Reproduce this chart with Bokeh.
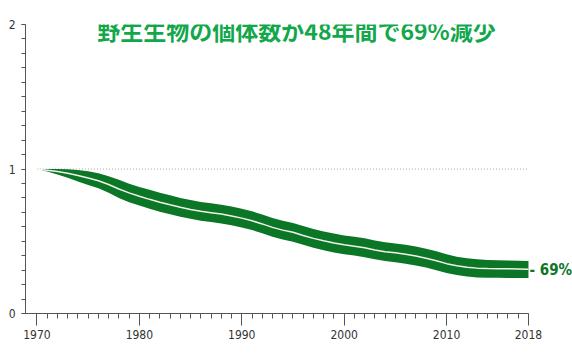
from bokeh.plotting import figure
from bokeh.models import Range1d, FixedTicker, ColumnDataSource
from bokeh.core.properties import value
from bokeh.embed import file_html
from bokeh.resources import INLINE

years = list(range(1970, 2019))
index_mid = [1.000, 0.992, 0.982, 0.970, 0.955, 0.938, 0.919, 0.893, 0.862, 0.835,
             0.812, 0.790, 0.770, 0.752, 0.735, 0.720, 0.707, 0.698, 0.688, 0.675,
             0.660, 0.642, 0.620, 0.596, 0.577, 0.562, 0.540, 0.520, 0.503, 0.488,
             0.475, 0.466, 0.455, 0.440, 0.428, 0.420, 0.410, 0.398, 0.383, 0.365,
             0.345, 0.330, 0.320, 0.314, 0.311, 0.310, 0.309, 0.308, 0.307]
index_upper = [1.000, 1.000, 1.000, 0.998, 0.993, 0.985, 0.970, 0.950, 0.925, 0.898,
               0.876, 0.856, 0.836, 0.818, 0.800, 0.785, 0.772, 0.763, 0.753, 0.740,
               0.725, 0.707, 0.685, 0.661, 0.642, 0.627, 0.605, 0.585, 0.568, 0.553,
               0.540, 0.531, 0.520, 0.505, 0.493, 0.485, 0.475, 0.463, 0.448, 0.430,
               0.410, 0.393, 0.382, 0.375, 0.371, 0.369, 0.367, 0.365, 0.363]
index_lower = [1.000, 0.982, 0.962, 0.940, 0.914, 0.890, 0.866, 0.836, 0.800, 0.770,
               0.747, 0.725, 0.705, 0.687, 0.670, 0.655, 0.642, 0.633, 0.623, 0.610,
               0.595, 0.577, 0.555, 0.531, 0.512, 0.497, 0.475, 0.455, 0.438, 0.423,
               0.410, 0.401, 0.390, 0.375, 0.363, 0.355, 0.345, 0.333, 0.318, 0.300,
               0.281, 0.266, 0.256, 0.250, 0.248, 0.247, 0.246, 0.245, 0.245]
x_major_ticks = [1970, 1980, 1990, 2000, 2010, 2018]
y_major_ticks = [0, 1, 2]
y_minor_ticks = [i / 10 for i in range(0, 21)]
baseline_years = [1970, 2018]
baseline_values = [1, 1]
title_text = "野生生物の個体数が48年間で69%減少"
end_label = "- 69%"

src = ColumnDataSource(dict(year=years, mid=index_mid, lo=index_lower, hi=index_upper))

p = figure(width=572, height=355, output_backend="svg", toolbar_location=None,
           x_range=Range1d(1968.88, 2022.3), y_range=Range1d(0, 2),
           min_border_left=25, min_border_right=0, min_border_top=24, min_border_bottom=42)
p.outline_line_color = None
p.xgrid.visible = False
p.ygrid.visible = False
p.background_fill_color = "white"
p.border_fill_color = "white"

axis_color = "#555555"
label_font = "DejaVu Sans Condensed"

# x axis
xa = p.xaxis[0]
xa.ticker = FixedTicker(ticks=x_major_ticks, minor_ticks=years)
xa.bounds = (1968.88, 2018)
xa.axis_line_color = axis_color
xa.major_tick_line_color = axis_color
xa.minor_tick_line_color = axis_color
xa.major_tick_out = 12
xa.major_tick_in = 0
xa.minor_tick_out = 5
xa.minor_tick_in = 0
xa.major_label_standoff = 4
xa.major_label_text_font = label_font
xa.major_label_text_font_size = "12px"
xa.major_label_text_color = "#333333"

# y axis
ya = p.yaxis[0]
ya.ticker = FixedTicker(ticks=y_major_ticks, minor_ticks=y_minor_ticks)
ya.axis_line_color = axis_color
ya.major_tick_line_color = axis_color
ya.minor_tick_line_color = axis_color
ya.major_tick_out = 4
ya.major_tick_in = 0
ya.minor_tick_out = 4
ya.minor_tick_in = 0
ya.major_label_standoff = 6
ya.major_label_text_font = label_font
ya.major_label_text_font_size = "12px"
ya.major_label_text_color = "#333333"

# baseline at 1
p.line(baseline_years, baseline_values, line_color="#aaaaaa", line_width=1, line_dash="1 2")

# band and center line
p.varea(x="year", y1="lo", y2="hi", source=src, fill_color="#0b7626")
p.line(x="year", y="mid", source=src, line_color="#f2f2ea", line_width=1.5)

# title
p.text(x=[1995.35], y=[1.963], text=[title_text], text_align="center", text_baseline="middle",
       text_font=value("Noto Sans CJK JP"), text_font_style="bold", text_font_size="23px",
       text_color="#12a74b")

# end label
p.text(x=[2018.1], y=[0.298], text=[end_label], text_align="left", text_baseline="middle",
       text_font=value(label_font), text_font_style="bold", text_font_size="15px",
       text_color="#0b7626")

open("out.html", "w").write(file_html(p, INLINE))
